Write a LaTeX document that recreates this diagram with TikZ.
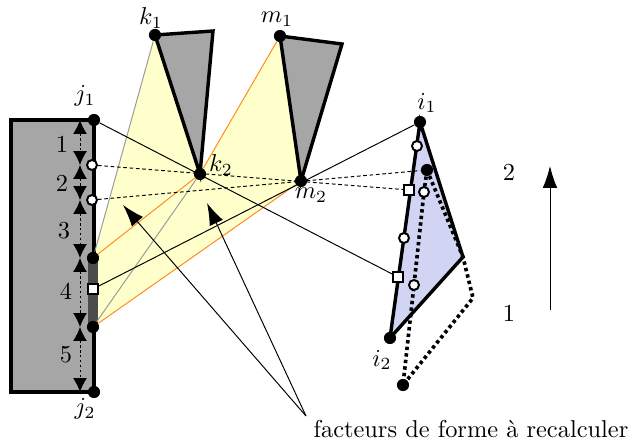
\documentclass[tikz,border=0pt]{standalone}
\usepackage{amsmath,amssymb}
\usepackage{xcolor}
\usetikzlibrary{arrows.meta,backgrounds}
\definecolor{facegray}{HTML}{A6A6A6}
\definecolor{faceyellow}{HTML}{FFFFCC}
\definecolor{faceblue}{HTML}{D2D4F4}
\definecolor{raygray}{HTML}{999999}
\definecolor{rayorange}{HTML}{FF8A1F}

\begin{document}
\begin{tikzpicture}[
    x=0.41pt, y=-0.41pt,
    blob/.style={circle, fill=black, inner sep=0pt, minimum size=5pt},
    hole/.style={circle, draw, fill=white, line width=0.8pt, inner sep=0pt, minimum size=4.1pt},
    sq/.style={rectangle, draw, fill=white, line width=0.8pt, inner sep=0pt, minimum size=3.8pt},
    face/.style={line width=1.4pt, line join=miter},
    ray/.style={line width=0.4pt},
    dotray/.style={ray, dash pattern=on 1.5pt off 1.1pt},
    bigdot/.style={line width=1.5pt, dash pattern=on 1.4pt off 1.3pt},
    dim/.style={{Latex[length=5.7pt,width=5.7pt]}-{Latex[length=5.7pt,width=5.7pt]}, line width=0.4pt, dash pattern=on 1pt off 1pt},
    arr/.style={-{Latex[length=9pt,width=6pt]}, line width=0.4pt},
    lbl/.style={inner sep=0pt}
]
\useasboundingbox (0,0) rectangle (631,445);

% --- left face ---
\node[blob] (j1) at (94,120)  {};
\node[blob] (j2) at (94,392)  {};
\node[blob] (j3) at (93,258)  {};
\node[blob] (j4) at (93,327)  {};
\node[hole] (c1) at (92,165)  {};
\node[hole] (c2) at (92,200)  {};
\node[sq]   (s0) at (93,289)  {};

% --- two middle faces ---
\node[blob] (k1) at (155,35)  {};
\node[blob] (k2) at (200,174) {};
\node[blob] (m1) at (280,36)  {};
\node[blob] (m2) at (301,181) {};
\coordinate (k3) at (213,31);
\coordinate (m3) at (342,44);

% --- right face ---
\node[blob] (i1) at (420,122) {};
\node[blob] (i2) at (390,338) {};
\node[blob] (p1) at (427,170) {};
\node[blob] (p2) at (403,385) {};
\node[hole] (c3) at (417,146) {};
\node[hole] (c4) at (404,238) {};
\node[hole] (c5) at (424,192) {};
\node[hole] (c6) at (414,285) {};
\node[sq]   (s1) at (409,190) {};
\node[sq]   (s2) at (398,277) {};
\coordinate (i3) at (463,257);
\coordinate (p3) at (473,298);

% --- dimension marks ---
\coordinate (d0) at (80,120);
\coordinate (d1) at (80,165);
\coordinate (d2) at (80,200);
\coordinate (d3) at (80,258);
\coordinate (d4) at (80,327);
\coordinate (d5) at (80,392);

\begin{scope}[on background layer]
% fills first
\fill[faceyellow] (j3.center) -- (k1.center) -- (k2.center) -- (m1.center) -- (m2.center) -- (j4.center) -- cycle;
\draw[face, fill=facegray] (j1.center) -- (11,120) -- (11,392) -- (j2.center);
\draw[face] (j1.center) -- (j2.center);
\draw[line width=4.5pt, black!70] (j3.center) -- (j4.center);
\draw[face, fill=facegray] (k1.center) -- (k3) -- (k2.center) -- cycle;
\draw[face, fill=facegray] (m1.center) -- (m3) -- (m2.center) -- cycle;
\draw[face, fill=faceblue] (i1.center) -- (i3) -- (i2.center) -- cycle;
% hidden part of the right face
\draw[bigdot] (p1.center) -- (i3) -- (p3) -- (p2.center) -- (c6.center) -- (c5.center) -- cycle;
\end{scope}

% gray and orange rays
\draw[ray, raygray] (k1) -- (j3);
\draw[ray, raygray] (k2) -- (j4);
\draw[ray, rayorange] (m1) -- (k2);
\draw[ray, rayorange] (k2) -- (j3);
\draw[ray, rayorange] (m2) -- (j4);

% black rays
\draw[ray] (j1) -- (s2);
\draw[ray] (s0) -- (i1);
\draw[dotray] (c1) -- (s1);
\draw[dotray] (c2) -- (p1);

% dimensions
\foreach \a/\b in {d0/d1,d1/d2,d2/d3,d3/d4,d4/d5}
    \draw[dim] (\a) -- (\b);

\node[lbl] (n1) at (62,144) {1};
\node[lbl] (n2) at (62,183) {2};
\node[lbl] (n3) at (64,231) {3};
\node[lbl] (n4) at (66,291) {4};
\node[lbl] (n5) at (66,355) {5};

% point names
\node[lbl] (tj1) at (85,96)   {$j_1$};
\node[lbl] (tj2) at (85,409)  {$j_2$};
\node[lbl] (tk1) at (151,18)  {$k_1$};
\node[lbl] (tk2) at (221,165) {$k_2$};
\node[lbl] (tm1) at (277,19)  {$m_1$};
\node[lbl] (tm2) at (311,195) {$m_2$};
\node[lbl] (ti1) at (427,103) {$i_1$};
\node[lbl] (ti2) at (382,360) {$i_2$};

% direction on the right
\node[lbl] (up2) at (509,172) {2};
\node[lbl] (up1) at (509,313) {1};
\coordinate (u1) at (550,310);
\coordinate (u2) at (550,166);
\draw[arr] (u1) -- (u2);

% note
\node[lbl] (note) at (471,429) {facteurs de forme à recalculer};
\coordinate (n0) at (306,416);
\coordinate (a1) at (123,205);
\coordinate (a2) at (207,203);
\draw[arr] (n0) -- (a1);
\draw[arr] (n0) -- (a2);

\end{tikzpicture}
\end{document}
